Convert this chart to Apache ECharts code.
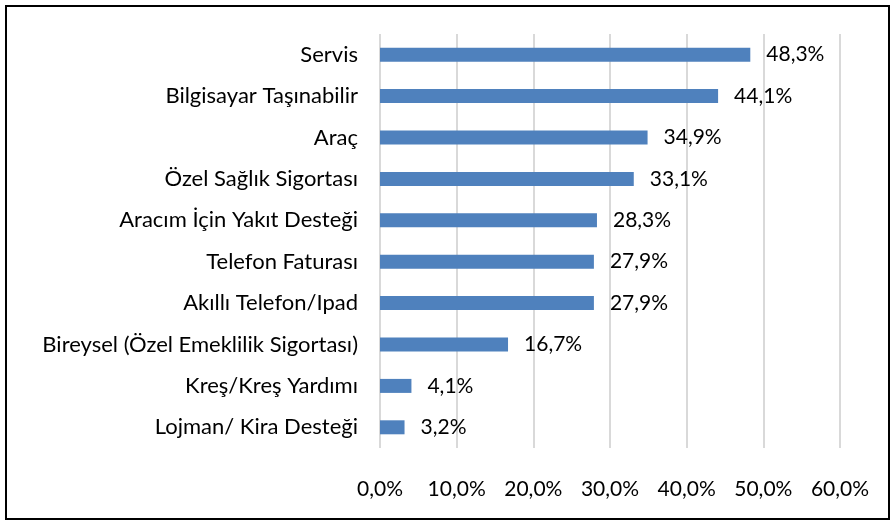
<!DOCTYPE html>
<html lang="tr">
<head>
    <meta charset="utf-8" />
    <title>Yan Haklar</title>
    <script type="text/javascript" src="https://cdn.jsdelivr.net/npm/echarts@6/dist/echarts.min.js"></script>
    <style type="text/css">
        html, body { margin: 0; padding: 0; background: #fff; }
        #frame { position: absolute; left: 5px; top: 5px; width: 881px; height: 511px; border: 2px solid #000; }
        #main { position: absolute; left: 0; top: 0; width: 896px; height: 526px; }
    </style>
</head>
<body>
    <div id="frame"></div>
    <div id="main"></div>

    <script type="text/javascript">
        var categories = ['Servis', 'Bilgisayar Taşınabilir', 'Araç', 'Özel Sağlık Sigortası', 'Aracım İçin Yakıt Desteği',
            'Telefon Faturası', 'Akıllı Telefon/Ipad', 'Bireysel (Özel Emeklilik Sigortası)', 'Kreş/Kreş Yardımı', 'Lojman/ Kira Desteği'];
        var values = [48.3, 44.1, 34.9, 33.1, 28.3, 27.9, 27.9, 16.7, 4.1, 3.2];
        var xTicks = [0, 10, 20, 30, 40, 50, 60];

        var fmt = function (v) { return v.toFixed(1).replace('.', ',') + '%'; };
        var font = 'Lato, "Open Sans", sans-serif';

        var myChart = echarts.init(document.getElementById('main'));
        var option = {
            animation: false,
            grid: { left: 380, right: 56, top: 34, bottom: 78, containLabel: false },
            xAxis: {
                type: 'value',
                min: xTicks[0],
                max: xTicks[xTicks.length - 1],
                interval: 10,
                axisLine: { show: false },
                axisTick: { show: false },
                splitLine: { lineStyle: { color: '#d9d9d9', width: 2 } },
                axisLabel: {
                    formatter: function (v) { return fmt(v); },
                    color: '#000', fontSize: 21, fontFamily: font, margin: 31
                }
            },
            yAxis: {
                type: 'category',
                inverse: true,
                data: categories,
                axisLine: { show: false },
                axisTick: { show: false },
                axisLabel: { color: '#000', fontSize: 22, fontFamily: font, margin: 22 }
            },
            series: [{
                type: 'bar',
                data: values,
                barWidth: 14,
                itemStyle: { color: '#4f81bd' },
                label: {
                    show: true,
                    position: 'right',
                    distance: 16,
                    color: '#000',
                    fontSize: 21,
                    fontFamily: font,
                    formatter: function (p) { return fmt(p.value); }
                }
            }]
        };
        myChart.setOption(option);
    </script>
</body>
</html>
